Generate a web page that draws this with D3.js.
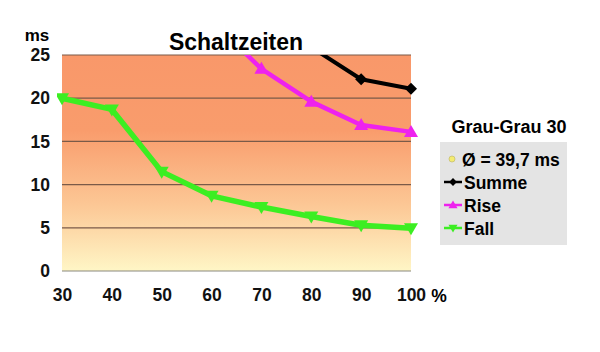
<!DOCTYPE html>
<html>
<head>
<meta charset="utf-8">
<script src="https://cdn.jsdelivr.net/npm/d3@7"></script>
<style>
body{margin:0;background:#fff;}
svg{display:block;font-family:"Liberation Sans",Arial,sans-serif;font-weight:bold;}
</style>
</head>
<body>
<svg width="600" height="352"></svg>
<script>
// values
var xticks = [30,40,50,60,70,80,90,100];
var yticks = [0,5,10,15,20,25];
var fall = [[30,20],[40,18.7],[50,11.5],[60,8.7],[70,7.4],[80,6.3],[90,5.3],[100,4.95]];
var rise = [[60,29],[70,23.4],[80,19.6],[90,16.9],[100,16.1]];
var summe = [[70,30.8],[80,25.9],[90,22.2],[100,21.1]];
var legendItems = ['Ø = 39,7 ms','Summe','Rise','Fall'];

var svg = d3.select('svg');
var margin = {left:62,right:189,top:55,bottom:81};
var width = +svg.attr('width'), height = +svg.attr('height');
var innerwidth = width - margin.left - margin.right;
var innerheight = height - margin.top - margin.bottom;

var xscale = d3.scaleLinear().domain([30,100]).range([0,innerwidth]);
var yscale = d3.scaleLinear().domain([0,25]).range([innerheight,0]);

var defs = svg.append('defs');
var grad = defs.append('linearGradient').attr('id','bg').attr('x1',0).attr('y1',0).attr('x2',0).attr('y2',1);
grad.append('stop').attr('offset','0%').attr('stop-color','#f9986a');
grad.append('stop').attr('offset','35%').attr('stop-color','#f99c6c');
grad.append('stop').attr('offset','70%').attr('stop-color','#fcc896');
grad.append('stop').attr('offset','100%').attr('stop-color','#fff6c6');
defs.append('clipPath').attr('id','clip').append('rect')
	.attr('x',-5).attr('y',0).attr('width',innerwidth+12).attr('height',innerheight+5);

var g = svg.append('g').attr('transform',`translate(${margin.left},${margin.top})`);

g.append('rect').attr('width',innerwidth).attr('height',innerheight).attr('fill','url(#bg)');

// grid lines
g.append('g').selectAll('line').data(yticks).enter().append('line')
	.attr('x1',0).attr('x2',innerwidth)
	.attr('y1',d => yscale(d)).attr('y2',d => yscale(d))
	.attr('stroke',d => d==0 ? '#8a8a80' : '#7a5a48').attr('stroke-width',1.2);

// axes (labels only)
var yaxis = g.append('g').attr('transform','translate(-12,0)')
	.call(d3.axisLeft(yscale).tickValues(yticks).tickSize(0).tickPadding(0));
var xaxis = g.append('g').attr('transform',`translate(0,${innerheight+18})`)
	.call(d3.axisBottom(xscale).tickValues(xticks).tickSize(0).tickPadding(0));
[yaxis,xaxis].forEach(a => {
	a.select('.domain').remove();
	a.selectAll('text').attr('font-size',17.5).attr('font-weight','bold').attr('fill','#111')
		.attr('font-family','"Liberation Sans",Arial,sans-serif');
});

var line = d3.line().x(d => xscale(d[0])).y(d => yscale(d[1]));
var series = [
	{data:summe,color:'#000000',w:4,marker:'diamond'},
	{data:rise,color:'#ee22ee',w:4.5,marker:'up'},
	{data:fall,color:'#3cee22',w:5.5,marker:'down'}
];
var cg = g.append('g').attr('clip-path','url(#clip)');
function marker(sel,type,color){
	var p;
	if(type=='diamond') p = 'M0,-6L6,0L0,6L-6,0Z';
	else if(type=='up') p = 'M0,-7L7,5L-7,5Z';
	else p = 'M0,7L7,-5L-7,-5Z';
	sel.append('path').attr('d',p).attr('fill',color);
}
series.forEach(s => {
	cg.append('path').datum(s.data).attr('d',line)
		.attr('fill','none').attr('stroke',s.color).attr('stroke-width',s.w).attr('stroke-linejoin','round');
	cg.selectAll(null).data(s.data.filter(d => d[1]<=25)).enter().append('g')
		.attr('transform',d => `translate(${xscale(d[0])},${yscale(d[1])})`)
		.each(function(){ marker(d3.select(this),s.marker,s.color); });
});

// title and units
svg.append('text').attr('x',236).attr('y',50).attr('text-anchor','middle').attr('font-size',23).text('Schaltzeiten');
svg.append('text').attr('x',37).attr('y',41).attr('text-anchor','middle').attr('font-size',17).text('ms');
svg.append('text').attr('x',439).attr('y',302).attr('text-anchor','middle').attr('font-size',17.5).text('%');

// legend
var lg = svg.append('g').attr('transform','translate(440,142)');
svg.append('text').attr('x',509).attr('y',133).attr('text-anchor','middle').attr('font-size',18).text('Grau-Grau 30');
lg.append('rect').attr('width',127).attr('height',103).attr('fill','#e4e4e4');
var items = lg.selectAll('g').data(legendItems).enter().append('g')
	.attr('transform',(d,i) => `translate(0,${17+i*23})`);
items.append('text').attr('x',d => d==legendItems[0] ? 22 : 24).attr('y',6.5).attr('font-size',17.5).text(d => d);
lg.append('circle').attr('cx',12).attr('cy',17).attr('r',3).attr('fill','#f4ec70').attr('stroke','#c8c070').attr('stroke-width',0.8);
series.forEach((s,i) => {
	var row = lg.append('g').attr('transform',`translate(13,${17+(i+1)*23})`);
	row.append('line').attr('x1',-9).attr('x2',9).attr('stroke',s.color).attr('stroke-width',2.5);
	var m = row.append('g').attr('transform','scale(0.65)');
	marker(m,s.marker,s.color);
});
</script>
</body>
</html>
